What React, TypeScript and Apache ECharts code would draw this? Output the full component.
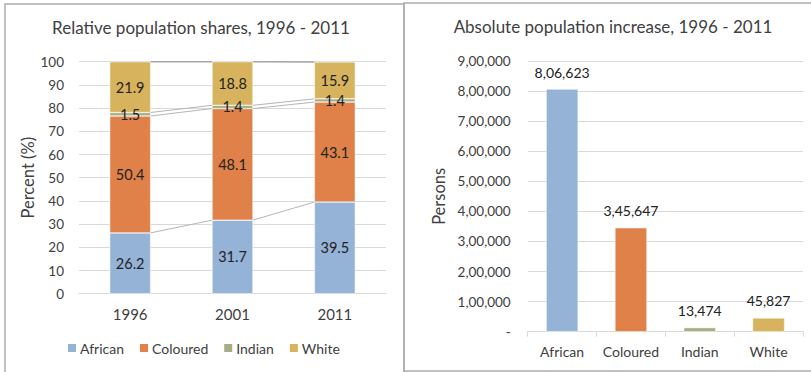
import React, { useEffect, useRef } from "react";
import * as echarts from "echarts";

// Relative shares (percent) by census year
const years = ["1996", "2001", "2011"];
const groups = ["African", "Coloured", "Indian", "White"];
const african = [26.2, 31.7, 39.5];
const coloured = [50.4, 48.1, 43.1];
const indian = [1.5, 1.4, 1.4];
const white = [21.9, 18.8, 15.9];

// Absolute increase in persons, 1996 - 2011
const increase = [806623, 345647, 13474, 45827];

const colors = ["#95B3D7", "#DF8148", "#A4AE84", "#D8B35E"];
const FONT = "Lato";
const TEXT = "#404040";

// Indian digit grouping, e.g. 8,06,623
function groupIN(n: number): string {
  const s = String(Math.round(n));
  if (s.length <= 3) return s;
  const last3 = s.slice(-3);
  const rest = s.slice(0, -3).replace(/\B(?=(\d{2})+(?!\d))/g, ",");
  return rest + "," + last3;
}

export default function App() {
  const ref = useRef<HTMLDivElement>(null);

  useEffect(() => {
    document.body.style.margin = "0";
    const chart = echarts.init(ref.current!, null, { renderer: "svg" });

    const shareSeries = [african, coloured, indian, white];
    // cumulative tops of each stacked segment, per year
    const cumTops = years.map((_, i) => {
      let acc = 0;
      return shareSeries.map((s) => (acc += s[i]));
    });

    const barWidthRatio = 0.4;

    const option: any = {
      animation: false,
      textStyle: { fontFamily: FONT },
      title: [
        {
          text: "Relative population shares, 1996 - 2011",
          left: 201,
          top: 19,
          padding: 0,
          textAlign: "center",
          textStyle: { fontFamily: FONT, fontSize: 17, fontWeight: "normal", color: TEXT },
        },
        {
          text: "Absolute population increase, 1996 - 2011",
          left: 613,
          top: 18,
          padding: 0,
          textAlign: "center",
          textStyle: { fontFamily: FONT, fontSize: 17, fontWeight: "normal", color: TEXT },
        },
      ],
      legend: {
        data: groups,
        left: 66,
        top: 341,
        padding: 0,
        itemWidth: 10,
        itemHeight: 10,
        itemGap: 14,
        icon: "rect",
        textStyle: { fontFamily: FONT, fontSize: 14, color: TEXT, padding: [0, 0, 0, -2] },
        selectedMode: false,
      },
      graphic: [
        {
          type: "rect",
          shape: { x: 5, y: 4, width: 399, height: 400 },
          style: { fill: "none", stroke: "#ADADAD", lineWidth: 1.5 },
          silent: true,
        },
        {
          type: "rect",
          shape: { x: 404, y: 3, width: 430, height: 368 },
          style: { fill: "none", stroke: "#ADADAD", lineWidth: 1.5 },
          silent: true,
        },
      ],
      grid: [
        { left: 79, right: 425, top: 61.7, bottom: 78.3 },
        { left: 527.7, right: 8, top: 61, bottom: 40.3 },
      ],
      xAxis: [
        {
          type: "category",
          gridIndex: 0,
          data: years,
          axisLine: { lineStyle: { color: "#D9D9D9" } },
          axisTick: { show: false },
          axisLabel: { fontFamily: FONT, fontSize: 15, color: TEXT, margin: 13, interval: 0 },
        },
        {
          type: "category",
          gridIndex: 1,
          data: groups,
          axisLine: { lineStyle: { color: "#D9D9D9" } },
          axisTick: { show: true, length: 5, lineStyle: { color: "#D9D9D9" } },
          axisLabel: {
            fontFamily: FONT,
            fontSize: 14,
            color: TEXT,
            margin: 13,
            interval: 0,
            hideOverlap: false,
          },
        },
      ],
      yAxis: [
        {
          type: "value",
          gridIndex: 0,
          min: 0,
          max: 100,
          interval: 10,
          name: "Percent (%)",
          nameLocation: "middle",
          nameGap: 42,
          nameTextStyle: { fontFamily: FONT, fontSize: 16.5, color: TEXT },
          axisLine: { show: false },
          axisTick: { show: false },
          splitLine: { lineStyle: { color: "#D9D9D9" } },
          axisLabel: { fontFamily: FONT, fontSize: 13.5, color: TEXT, margin: 15 },
        },
        {
          type: "value",
          gridIndex: 1,
          min: 0,
          max: 900000,
          interval: 100000,
          name: "Persons",
          nameLocation: "middle",
          nameGap: 80,
          nameTextStyle: { fontFamily: FONT, fontSize: 16.5, color: TEXT },
          axisLine: { show: false },
          axisTick: { show: false },
          splitLine: { lineStyle: { color: "#D9D9D9" } },
          axisLabel: {
            fontFamily: FONT,
            fontSize: 13.5,
            color: TEXT,
            margin: 17,
            formatter: (v: number) => (v === 0 ? "-" : groupIN(v)),
          },
        },
      ],
      series: [
        ...groups.map((g, k) => ({
          name: g,
          type: "bar",
          stack: "share",
          xAxisIndex: 0,
          yAxisIndex: 0,
          barWidth: barWidthRatio * 100 + "%",
          data: shareSeries[k],
          itemStyle: { color: colors[k], borderColor: "#ffffff", borderWidth: 0.5 },
          label: {
            show: true,
            position: "inside",
            fontFamily: FONT,
            fontSize: 14.5,
            color: "#222",
            formatter: (p: any) => Number(p.value).toFixed(1),
          },
        })),
        {
          // series lines joining segment tops between neighbouring bars
          name: "seriesLines",
          type: "custom",
          xAxisIndex: 0,
          yAxisIndex: 0,
          silent: true,
          z: 1,
          data: [
            [0, 0],
            [1, 0],
          ],
          renderItem: (params: any, api: any) => {
            const i = api.value(0);
            const band = api.size([1, 0])[0];
            const half = (band * barWidthRatio) / 2;
            const children = cumTops[i].map((top: number, k: number) => {
              const p1 = api.coord([i, top]);
              const p2 = api.coord([i + 1, cumTops[i + 1][k]]);
              return {
                type: "line",
                shape: { x1: p1[0] + half, y1: p1[1], x2: p2[0] - half, y2: p2[1] },
                style: { stroke: k === 3 ? "#A6A6A6" : "#B5B5B5", lineWidth: k === 3 ? 1.5 : 1 },
              };
            });
            return { type: "group", children };
          },
        },
        {
          name: "Increase",
          type: "bar",
          xAxisIndex: 1,
          yAxisIndex: 1,
          barWidth: "46.5%",
          data: increase.map((v, k) => ({ value: v, itemStyle: { color: colors[k] } })),
          itemStyle: { borderColor: "#ffffff", borderWidth: 0.5 },
          label: {
            show: true,
            position: "top",
            distance: 10,
            fontFamily: FONT,
            fontSize: 14,
            color: "#222",
            formatter: (p: any) => groupIN(p.value),
          },
        },
      ],
    };

    chart.setOption(option);
    return () => chart.dispose();
  }, []);

  return <div ref={ref} style={{ width: 811, height: 372, background: "#fff" }} />;
}
